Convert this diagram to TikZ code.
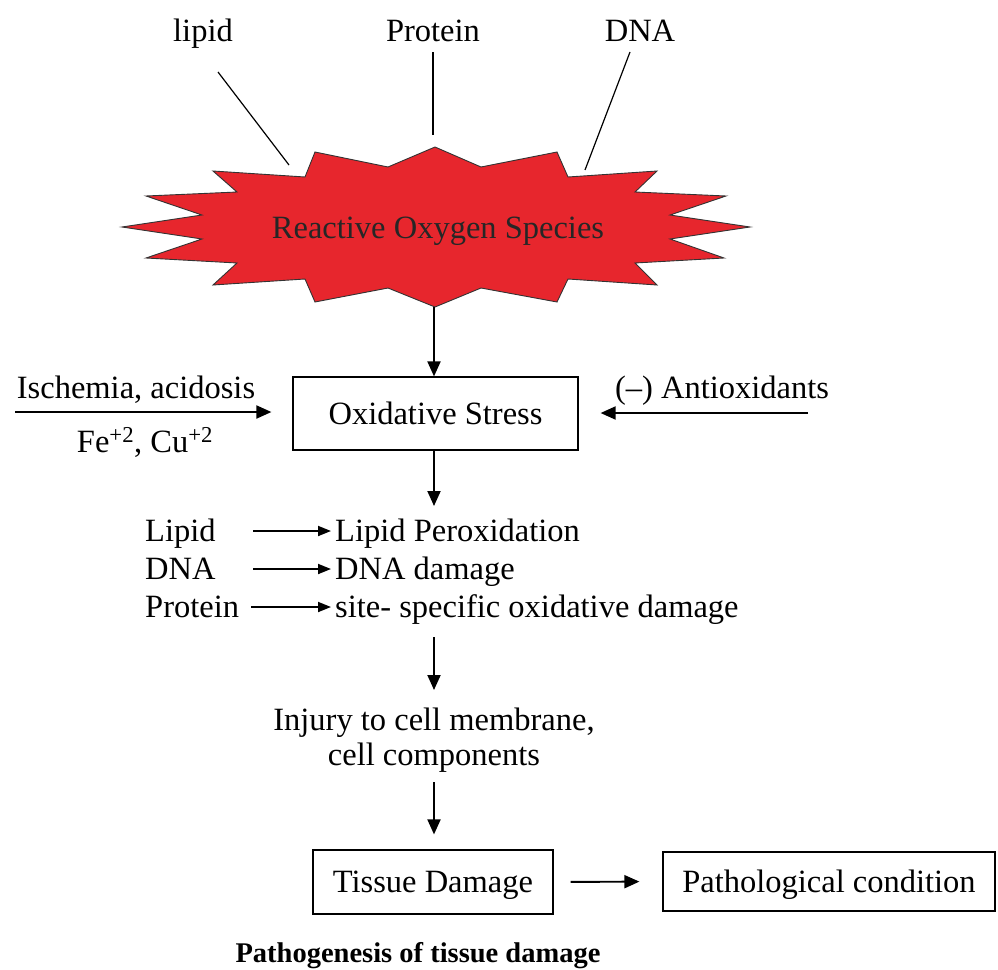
\documentclass[tikz,border=0pt]{standalone}
\usepackage{fontspec}
\setmainfont{Liberation Serif}
\usetikzlibrary{arrows.meta}
\definecolor{rosred}{RGB}{231,38,45}
\begin{document}
\begin{tikzpicture}[x=1pt,y=-1pt,
  txt/.style={font=\fontsize{32.5}{35}\selectfont, inner sep=0pt},
  boxnode/.style={draw, line width=1.2pt, font=\fontsize{32.5}{35}\selectfont, inner sep=0pt, text height=22pt, text depth=1pt},
  arr/.style={line width=1.9pt, -{Triangle[length=15pt,width=13pt]}},
  rowarr/.style={line width=1.8pt, -{Triangle[length=13pt,width=10pt]}},
  thinline/.style={line width=1.2pt}]
\useasboundingbox (0,0) rectangle (998,969);

% starburst
\filldraw[fill=rosred, draw=black!80, line width=0.9pt]
 (435,147) -- (481,167) -- (557,152) -- (568,177) -- (657,171) -- (635,192) -- (726,196) -- (670,215) -- (750,227) -- (670,239) -- (724,258) -- (635,263) -- (657,285) -- (568,279) -- (557,302) -- (481,288) -- (435,307) -- (388,288) -- (315,302) -- (305,279) -- (213,285) -- (237,263) -- (146,258) -- (202,239) -- (122,227) -- (202,215) -- (146,196) -- (237,192) -- (213,171) -- (305,177) -- (315,152) -- (388,167) -- cycle;
\node[txt, anchor=base, text=black!85] (ros) at (438,238) {Reactive Oxygen Species};

% top labels
\node[txt, anchor=base] (lipidT) at (203,41) {lipid};
\node[txt, anchor=base] (proteinT) at (433,41) {Protein};
\node[txt, anchor=base] (dnaT) at (640,41) {DNA};
\coordinate (lipA) at (218,72);  \coordinate (lipB) at (289,165);
\coordinate (proA) at (433,52);  \coordinate (proB) at (433,135);
\coordinate (dnaA) at (630,52);  \coordinate (dnaB) at (585,170);
\draw[thinline] (lipA) -- (lipB);
\draw[thinline] (proA) -- (proB);
\draw[thinline] (dnaA) -- (dnaB);

% oxidative stress
\node[boxnode, minimum width=285pt, minimum height=73pt] (os) at (435.5,413.5) {Oxidative Stress};
\coordinate (rosbot) at (434,307);
\draw[arr] (rosbot) -- (rosbot |- os.north);

\node[txt, anchor=base] (isch) at (136,398) {Ischemia, acidosis};
\node[txt, anchor=base] (fecu) at (145,452) {Fe\textsuperscript{+2}, Cu\textsuperscript{+2}};
\coordinate (ischA) at (15,412);
\draw[arr, shorten >=21pt] (ischA) -- (ischA -| os.west);

\node[txt, anchor=base] (antiox) at (722,398) {(–) Antioxidants};
\coordinate (antA) at (808,413);
\draw[arr, shorten >=22pt] (antA) -- (antA -| os.east);

\coordinate (rowtop) at (434,506);
\draw[arr] (os.south -| rowtop) -- (rowtop);

% rows
\node[txt, anchor=base west] (lipL) at (145,541) {Lipid};
\node[txt, anchor=base west] (dnaL) at (145,579) {DNA};
\node[txt, anchor=base west] (proL) at (145,617) {Protein};
\node[txt, anchor=base west] (lipR) at (335,541) {Lipid Peroxidation};
\node[txt, anchor=base west] (dnaR) at (335,579) {DNA damage};
\node[txt, anchor=base west] (proR) at (335,617) {site- specific oxidative damage};
\coordinate (r1a) at (253,531); \coordinate (r1b) at (331,531);
\coordinate (r2a) at (253,569); \coordinate (r2b) at (331,569);
\coordinate (r3a) at (251,607); \coordinate (r3b) at (331,607);
\draw[rowarr] (r1a) -- (r1b);
\draw[rowarr] (r2a) -- (r2b);
\draw[rowarr] (r3a) -- (r3b);

% injury
\coordinate (injA) at (434,637); \coordinate (injB) at (434,690);
\draw[arr] (injA) -- (injB);
\node[txt, anchor=north, align=center] (injury) at (434,708) {Injury to cell membrane,\\[0pt]cell components};

% tissue damage
\node[boxnode, minimum width=240pt, minimum height=64pt] (tissue) at (433,882) {Tissue Damage};
\node[boxnode, minimum width=332pt, minimum height=59pt] (patho) at (829,881.5) {Pathological condition};
\coordinate (tisA) at (434,782);
\draw[arr, shorten >=15pt] (tisA) -- (tisA |- tissue.north);
\draw[arr, shorten <=17pt, shorten >=23pt] (tissue.east) -- (patho.west);

\node[anchor=base, inner sep=0pt, font=\fontsize{28.5}{32}\selectfont\bfseries] (caption) at (418,962) {Pathogenesis of tissue damage};
\end{tikzpicture}
\end{document}
